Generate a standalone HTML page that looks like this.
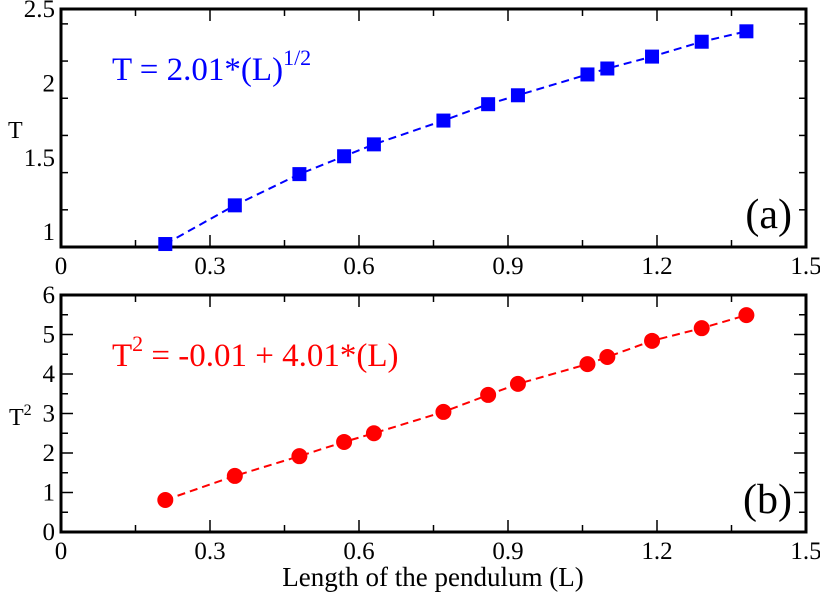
<!DOCTYPE html>
<html><head><meta charset="utf-8"><style>
html,body{margin:0;padding:0;background:#fff;}
svg{display:block;}
text,tspan{font-family:"Liberation Serif","DejaVu Serif",serif;}
</style></head><body>
<svg id="chart" width="820" height="594" viewBox="0 0 820 594" font-family="Liberation Serif, serif"></svg>
<script>
const lengths=[0.21,0.35,0.48,0.57,0.63,0.77,0.86,0.92,1.06,1.10,1.19,1.29,1.38];
const periodT=[0.92,1.18,1.39,1.51,1.59,1.75,1.86,1.92,2.06,2.10,2.18,2.28,2.35];
const periodSq=[0.81,1.42,1.92,2.28,2.5,3.04,3.47,3.75,4.25,4.43,4.84,5.16,5.49];
const xTicks=["0","0.3","0.6","0.9","1.2","1.5"];
const yTicksA=["1","1.5","2","2.5"];
const yTicksB=["0","1","2","3","4","5","6"];
const NS="http://www.w3.org/2000/svg";
const FF='Liberation Serif, serif';
const svg=document.getElementById('chart');
function mk(t,a,p){const e=document.createElementNS(NS,t);for(const k in a)e.setAttribute(k,a[k]);if(t==='text')e.setAttribute('font-family',FF);(p||svg).appendChild(e);return e;}
const X0=61,X1=806;
const sx=v=>X0+(v/1.5)*(X1-X0);
function panel(top,bot,ymin,ymax,yticks,ystepMinor,name){
  const sy=v=>bot-(v-ymin)/(ymax-ymin)*(bot-top);
  const g=mk('g',{});
  
  
  const box=mk('rect',{x:X0,y:top,width:X1-X0,height:bot-top,fill:'none',stroke:'#000','stroke-width':3},g);
  
  
  for(let i=0;i<=10;i++){const v=i*0.15,x=sx(v);const L=i%2==0?12:7;
    mk('line',{x1:x,x2:x,y1:bot,y2:bot-L,stroke:'#000','stroke-width':1.5},g);
    mk('line',{x1:x,x2:x,y1:top,y2:top+L,stroke:'#000','stroke-width':1.5},g);}
  xTicks.forEach(t=>{const e=mk('text',{x:sx(parseFloat(t)),y:bot+27,'text-anchor':'middle','font-size':25},g);e.textContent=t;
    
    });
  for(let v=ymin;v<=ymax+1e-9;v+=ystepMinor){const y=sy(v);if(y>bot+0.5)continue;
    const maj=yticks.some(t=>Math.abs(parseFloat(t)-v)<1e-9);const L=maj?12:7;
    mk('line',{x1:X0,x2:X0+L,y1:y,y2:y,stroke:'#000','stroke-width':1.5},g);
    mk('line',{x1:X1,x2:X1-L,y1:y,y2:y,stroke:'#000','stroke-width':1.5},g);}
  yticks.forEach(t=>{const e=mk('text',{x:X0-6,y:sy(parseFloat(t))+8,'text-anchor':'end','font-size':25},g);e.textContent=t;
    
    });
  return {g,sy};
}
const A=panel(9,247,0.9,2.5,yTicksA,0.25,'panel-a');
const B=panel(295,532,0,6,yTicksB,0.5,'panel-b');
let ptsA=lengths.map((l,i)=>sx(l)+','+A.sy(periodT[i])).join(' ');
const lA=mk('polyline',{points:ptsA,fill:'none',stroke:'#0000ff','stroke-width':2,'stroke-dasharray':'8,5'},A.g);


lengths.forEach((l,i)=>{const r=mk('rect',{x:sx(l)-7,y:A.sy(periodT[i])-7,width:14,height:14,fill:'#0000ff'},A.g);
  
  });
let ptsB=lengths.map((l,i)=>sx(l)+','+B.sy(periodSq[i])).join(' ');
const lB=mk('polyline',{points:ptsB,fill:'none',stroke:'#ff0000','stroke-width':2,'stroke-dasharray':'8,5'},B.g);


lengths.forEach((l,i)=>{const c=mk('circle',{cx:sx(l),cy:B.sy(periodSq[i]),r:8,fill:'#ff0000'},B.g);
  
  });
function txt(x,y,s,html,name,anchor){const e=mk('text',{x:x,y:y,'font-size':s,'text-anchor':anchor||'start'});e.innerHTML=html;
  
  return e;}
txt(112,80,33,'<tspan fill="#0000ff">T = 2.01*(L)</tspan><tspan fill="#0000ff" font-size="22" dy="-15">1/2</tspan>','annotation-a');
txt(112,366,33,'<tspan fill="#ff0000">T</tspan><tspan fill="#ff0000" font-size="22" dy="-15">2</tspan><tspan fill="#ff0000" dy="15"> = -0.01 + 4.01*(L)</tspan>','annotation-b');
txt(792,228,42,'(a)','panel-label-a','end');
txt(792,513,42,'(b)','panel-label-b','end');
txt(8,138,24,'T','y-axis-title-a');
txt(9,425,24,'T<tspan font-size="16" dy="-10">2</tspan>','y-axis-title-b');
txt(433,586,27,'Length of the pendulum (L)','x-axis-title','middle');
</script>
</body></html>
